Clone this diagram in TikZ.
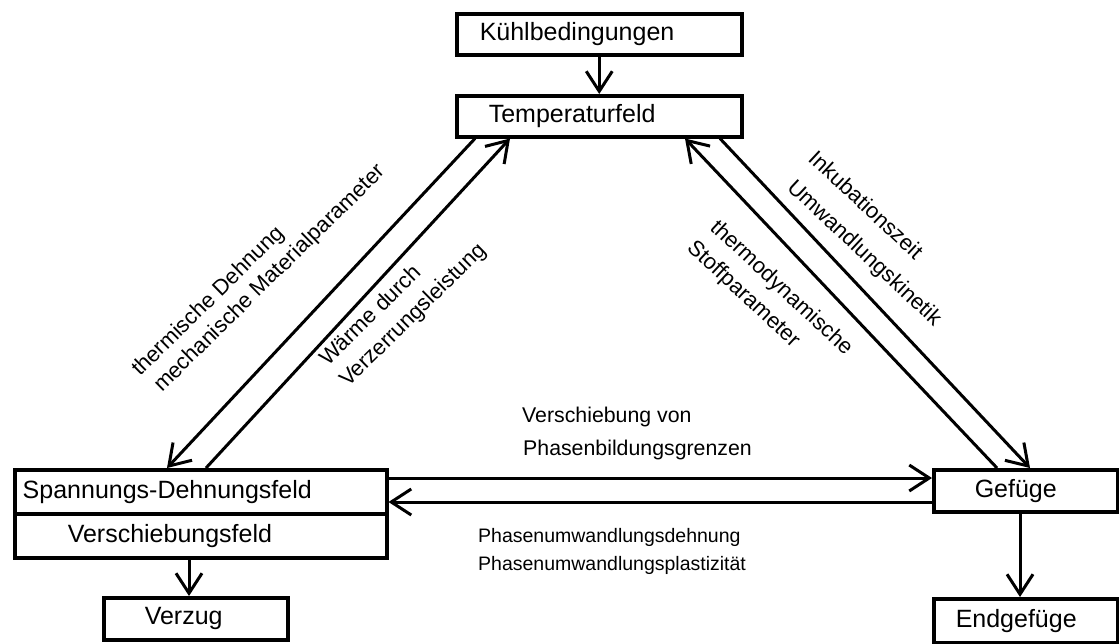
\documentclass[tikz,border=0pt]{standalone}
\usepackage{fontspec}
\setmainfont{Liberation Sans}
\usetikzlibrary{arrows.meta,calc}
\tikzset{
  box/.style={draw, line width=3.5pt, inner sep=0pt, anchor=north west, align=left,
    font=\fontsize{25}{30}\selectfont},
  arr/.style={line width=3pt, -{Straight Barb[length=20pt,width=26pt,line width=3pt]}},
  lab/.style={anchor=base west, inner sep=0pt, font=\fontsize{20}{24}\selectfont},
  dlab/.style={lab, font=\fontsize{22}{26}\selectfont},
  tlab/.style={lab, font=\fontsize{21.3}{25}\selectfont},
  blab/.style={lab, font=\fontsize{19.5}{23}\selectfont},
}
\begin{document}
\begin{tikzpicture}[x=1pt,y=-1pt]
\useasboundingbox (0,0) rectangle (1119,643);
% boxes
\node[box, text width=285pt, minimum height=41pt] (kuehl) at (455,12) {\hspace*{23pt}Kühlbedingungen};
\node[box, text width=285pt, minimum height=41pt] (temp) at (455,94) {\hspace*{32pt}Temperaturfeld};
\node[box, text width=372pt, minimum height=44pt] (sdf) at (13,468) {\hspace*{8pt}Spannungs-Dehnungsfeld};
\node[box, text width=372pt, minimum height=44pt] (vsf) at (13,512) {\hspace*{53pt}Verschiebungsfeld};
\node[box, text width=184pt, minimum height=42pt] (verzug) at (102,596) {\hspace*{41pt}Verzug};
\node[box, text width=184pt, minimum height=42pt] (gef) at (932,468) {\hspace*{41pt}Gefüge};
\node[box, text width=184pt, minimum height=44pt] (endgef) at (932,597) {\hspace*{22pt}Endgefüge};
% helper coordinates
\coordinate (xv) at (189,0);
\coordinate (xg) at (1020,0);
\coordinate (yu) at (0,478);
\coordinate (yl) at (0,502);
% connectors
\draw[arr] (kuehl) -- (temp);
\draw[arr] (vsf.south -| xv) -- (verzug.north -| xv);
\draw[arr] (gef.south -| xg) -- (endgef.north -| xg);
\draw[arr] (sdf.east |- yu) -- (gef.west |- yu);
\draw[arr] (gef.west |- yl) -- (sdf.east |- yl);
\draw[arr] ($(temp.south west)+(20,0)$) -- ($(sdf.north west)+(154,0)$);
\draw[arr] ($(sdf.north west)+(193,0)$) -- ($(temp.south west)+(55,0)$);
\draw[arr] ($(gef.north west)+(65,0)$) -- ($(temp.south west)+(230,0)$);
\draw[arr] ($(temp.south west)+(265,0)$) -- ($(gef.north west)+(98,0)$);
% labels
\node[dlab, rotate=44.5] (l1a) at (140,377) {thermische Dehnung};
\node[dlab, rotate=44.5] (l1b) at (162,393) {mechanische Materialparameter};
\node[dlab, rotate=44.5] (l2a) at (328,367) {Wärme durch};
\node[dlab, rotate=44.5] (l2b) at (348,388) {Verzerrungsleistung};
\node[dlab, rotate=-43] (r1a) at (807,160) {Inkubationszeit};
\node[dlab, rotate=-43] (r1b) at (786,189) {Umwandlungskinetik};
\node[dlab, rotate=-43] (r2a) at (709,229) {thermodynamische};
\node[dlab, rotate=-43] (r2b) at (686,249) {Stoffparameter};
\node[tlab] (m1a) at (522,422) {Verschiebung von};
\node[tlab] (m1b) at (523,455) {Phasenbildungsgrenzen};
\node[blab] (m2a) at (478,542) {Phasenumwandlungsdehnung};
\node[blab] (m2b) at (478,570) {Phasenumwandlungsplastizität};
\end{tikzpicture}
\end{document}
